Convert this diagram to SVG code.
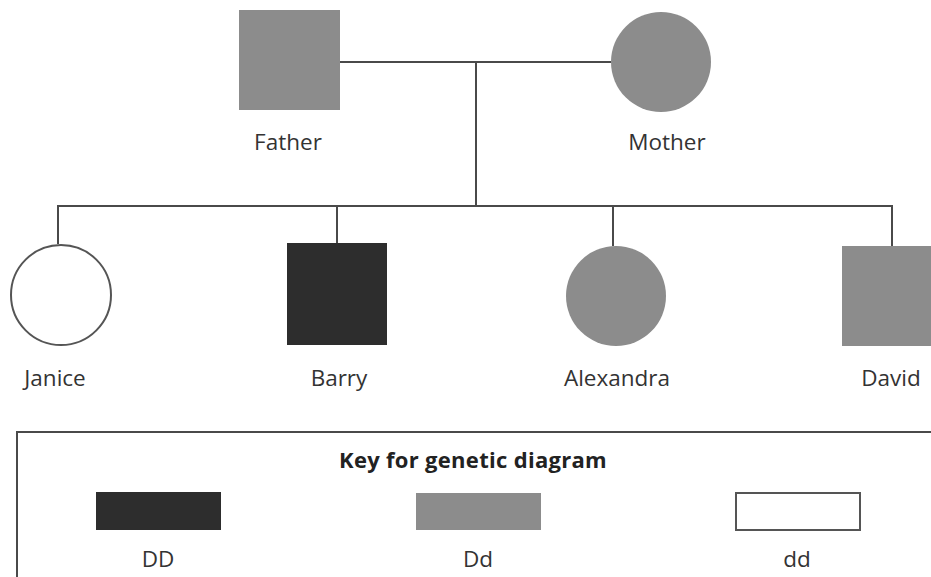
<svg xmlns="http://www.w3.org/2000/svg" width="931" height="577" viewBox="0 0 931 577">
<style>
.ln{stroke:#4a4a4a;stroke-width:2;fill:none}
.het{fill:#8c8c8c}
.dom{fill:#2d2d2d}
.rec{fill:#fff;stroke:#555;stroke-width:2}
.lbl{font-family:"Open Sans","Liberation Sans",sans-serif;font-size:22.5px;fill:#333;text-anchor:middle}
.ttl{font-family:"Open Sans","Liberation Sans",sans-serif;font-size:22px;font-weight:bold;fill:#222;text-anchor:middle;letter-spacing:0.3px}
</style>
<rect width="931" height="577" fill="#fff"/>
<g id="connectors">
<line class="ln" x1="340" y1="62" x2="611" y2="62"/>
<line class="ln" x1="476" y1="62" x2="476" y2="206"/>
<line class="ln" x1="58" y1="206" x2="892" y2="206"/>
<line class="ln" x1="58" y1="205" x2="58" y2="244"/>
<line class="ln" x1="337" y1="205" x2="337" y2="243"/>
<line class="ln" x1="613" y1="205" x2="613" y2="246"/>
<line class="ln" x1="892" y1="205" x2="892" y2="246"/>
</g>
<g id="father"><rect class="het" x="239" y="10" width="101" height="100"/><text class="lbl" x="288" y="150">Father</text></g>
<g id="mother"><circle class="het" cx="661" cy="62" r="50"/><text class="lbl" x="667" y="150">Mother</text></g>
<g id="janice"><circle class="rec" cx="61" cy="295" r="50"/><text class="lbl" x="55" y="386">Janice</text></g>
<g id="barry"><rect class="dom" x="287" y="243" width="100" height="102"/><text class="lbl" x="339" y="386">Barry</text></g>
<g id="alexandra"><circle class="het" cx="616" cy="296" r="50"/><text class="lbl" x="617" y="386">Alexandra</text></g>
<g id="david"><rect class="het" x="842" y="246" width="95" height="100"/><text class="lbl" x="891" y="386">David</text></g>
<g id="key">
<path class="ln" d="M17 580 V432 H935"/>
<text class="ttl" x="473" y="468">Key for genetic diagram</text>
<rect class="dom" x="96" y="492" width="125" height="38"/>
<text class="lbl" x="158" y="567">DD</text>
<rect class="het" x="416" y="493" width="125" height="37"/>
<text class="lbl" x="478" y="567">Dd</text>
<rect class="rec" x="736" y="493" width="124" height="37"/>
<text class="lbl" x="797" y="567">dd</text>
</g>
</svg>
